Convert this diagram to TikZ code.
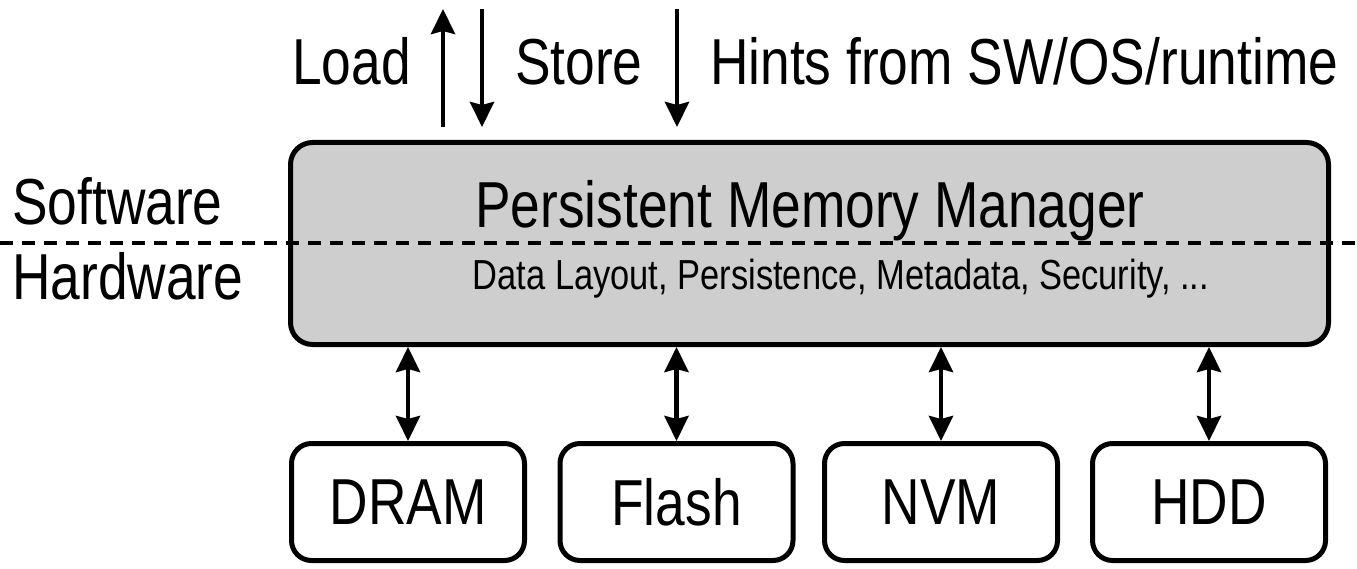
\documentclass[tikz,border=0pt]{standalone}
\usepackage{fontspec}
\setmainfont{Liberation Sans}[FakeStretch=0.82]
\usetikzlibrary{arrows.meta}
\definecolor{boxgray}{RGB}{206,206,206}
\tikzset{
  big/.style={font=\fontsize{65}{72}\selectfont, inner sep=0pt},
  small/.style={font=\fontsize{42}{47}\selectfont, inner sep=0pt},
  memblock/.style={draw, line width=5pt, rounded corners=20pt, minimum width=233pt, minimum height=117pt, inner sep=0pt, font=\fontsize{65}{72}\selectfont, text depth=0pt},
  arr/.style={line width=4.5pt, -{Stealth[length=25pt,width=24pt,inset=3pt]}},
  darr/.style={line width=4.5pt, {Stealth[length=25pt,width=24pt,inset=3pt]}-{Stealth[length=25pt,width=24pt,inset=3pt]}},
  divider/.style={line width=4.5pt, dash pattern=on 13pt off 9pt}
}
\begin{document}
\begin{tikzpicture}[x=1pt,y=-1pt]
\useasboundingbox (0,0) rectangle (1357,569);
% manager box
\node[draw, line width=5pt, fill=boxgray, rounded corners=22pt, minimum width=1038pt, minimum height=202pt, inner sep=0pt] (mgr) at (809.5,243.5) {};
\node[big, anchor=base] (title) at (810,228) {Persistent Memory Manager};
\node[small, anchor=base] (sub) at (841,290) {Data Layout, Persistence, Metadata, Security, ...};
% divider
\coordinate (dl) at (0,243);
\coordinate (dr) at (1357,243);
\draw[divider] (dl) -- (dr);
\node[big, anchor=base west] (sw) at (12,225) {Software};
\node[big, anchor=base west] (hw) at (12,300) {Hardware};
% top labels and arrows
\node[big, anchor=base west] (load) at (292,85) {Load};
\node[big, anchor=base west] (store) at (515,85) {Store};
\node[big, anchor=base west] (hints) at (710,85) {Hints from SW/OS/runtime};
\coordinate (la) at (443,127);
\coordinate (lb) at (443,9);
\coordinate (sa) at (482,9);
\coordinate (sb) at (482,127);
\coordinate (ha) at (677,9);
\coordinate (hb) at (677,127);
\draw[arr] (la) -- (lb);
\draw[arr] (sa) -- (sb);
\draw[arr] (ha) -- (hb);
% memory blocks
\node[memblock] (dram) at (408,502) {DRAM};
\node[memblock] (flash) at (676.5,502) {Flash};
\node[memblock] (nvm) at (941,502) {NVM};
\node[memblock] (hdd) at (1209,502) {HDD};
\foreach \m in {dram,flash,nvm,hdd}{
  \draw[darr] (\m.north |- mgr.south) -- (\m.north);
}
\end{tikzpicture}
\end{document}
